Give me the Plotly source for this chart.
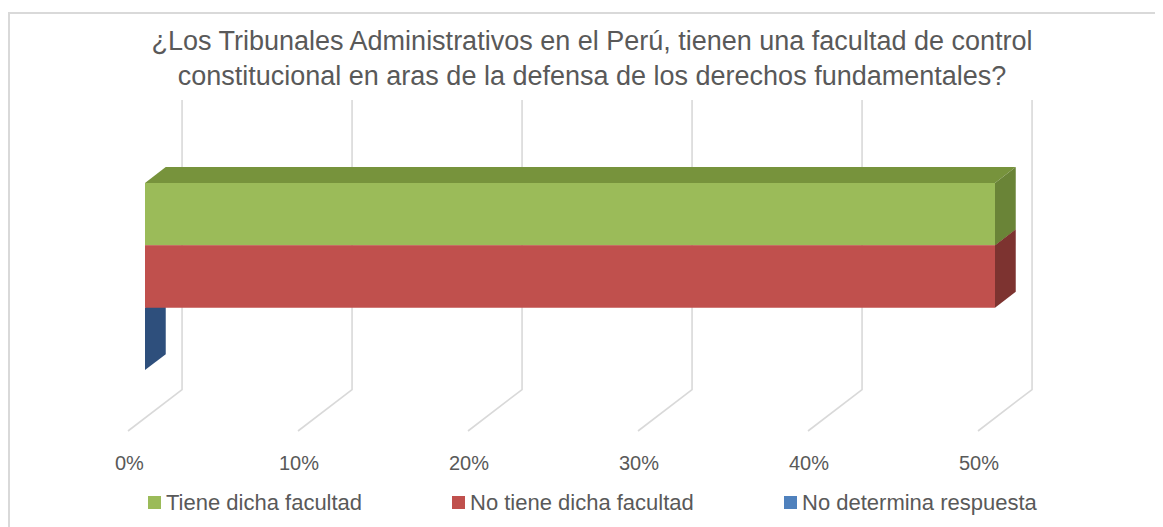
import plotly.graph_objects as go

# ---- data ----
categories = ["Tiene dicha facultad", "No tiene dicha facultad", "No determina respuesta"]
values = [50, 50, 0]
front_colors = ["#9BBB59", "#C0504D", "#4F81BD"]
side_colors = ["#6A8437", "#7D3330", "#2E4F7C"]
top_colors = ["#77933C", "#943C39", "#3A6090"]
tick_values = [0, 10, 20, 30, 40, 50]
tick_labels = ["0%", "10%", "20%", "30%", "40%", "50%"]
title_lines = ["¿Los Tribunales Administrativos en el Perú, tienen una facultad de control",
               "constitucional en aras de la defensa de los derechos fundamentales?"]

OFF = 8                      # page body margin
W, H = 1163 - OFF, 527 - OFF
FONT = "Liberation Sans"
TXT = "#595959"
GRID = "#D9D9D9"

def px(p):
    return (p - OFF) / W

def py(p):
    return 1 - (p - OFF) / H

# 3D look parameters (axis units)
DX, DY = 1.22, 0.256          # bar depth offset
BACK_DX, FLOOR_DX = 2.18, -1.0
WALL_TOP, WALL_BOT, FLOOR_Y = 3.83, -0.811, -1.476
LABEL_DX, LABEL_Y = -0.94, -1.99

X0_PX, X_SCALE = 145 - OFF, 17.0
Y0_PX, Y_SCALE = 338.9 - OFF, 62.4

n = len(categories)
slots = [n - 1 - i for i in range(n)]   # first category on top

fig = go.Figure()
shapes = []

# back-wall / floor gridlines
for v in tick_values:
    shapes.append(dict(type="path", xref="x", yref="y", layer="below",
                       path=f"M{v+BACK_DX},{WALL_TOP} L{v+BACK_DX},{WALL_BOT} L{v+FLOOR_DX},{FLOOR_Y}",
                       line=dict(color=GRID, width=1.6)))

# depth faces (drawn bottom bar first)
for i in reversed(range(n)):
    v, s = values[i], slots[i]
    y0, y1 = s - 0.5, s + 0.5
    shapes.append(dict(type="path", xref="x", yref="y", layer="below",
                       path=f"M0,{y1} L{v},{y1} L{v+DX},{y1+DY} L{DX},{y1+DY} Z",
                       fillcolor=top_colors[i], line=dict(width=0)))
    shapes.append(dict(type="path", xref="x", yref="y", layer="below",
                       path=f"M{v},{y0} L{v},{y1} L{v+DX},{y1+DY} L{v+DX},{y0+DY} Z",
                       fillcolor=side_colors[i], line=dict(width=0)))

# front faces
for i in range(n):
    fig.add_trace(go.Bar(x=[values[i]], y=[slots[i]], orientation="h", width=1,
                         name=categories[i], marker=dict(color=front_colors[i], line=dict(width=0)),
                         showlegend=False, hoverinfo="name+x"))

# chart border
shapes.append(dict(type="line", xref="paper", yref="paper", x0=0, x1=1, y0=py(13), y1=py(13),
                   line=dict(color=GRID, width=2)))
shapes.append(dict(type="line", xref="paper", yref="paper", x0=1/W, x1=1/W, y0=py(12), y1=0,
                   line=dict(color=GRID, width=2)))

annotations = []
for v, lab in zip(tick_values, tick_labels):
    annotations.append(dict(x=v + LABEL_DX, y=LABEL_Y, xref="x", yref="y", text=lab, showarrow=False,
                            font=dict(family=FONT, size=20, color=TXT), xanchor="center", yanchor="middle"))

# legend
legend_x = [148, 452, 784]
for i in range(n):
    x0 = legend_x[i]
    shapes.append(dict(type="rect", xref="paper", yref="paper",
                       x0=px(x0), x1=px(x0 + 13), y0=py(509), y1=py(496),
                       fillcolor=front_colors[i], line=dict(width=0)))
    annotations.append(dict(x=px(x0 + 16), y=py(502.5), xref="paper", yref="paper", text=categories[i],
                            showarrow=False, xanchor="left", yanchor="middle",
                            font=dict(family=FONT, size=22, color=TXT)))

fig.update_layout(
    width=W, height=H,
    margin=dict(l=0, r=0, t=0, b=0),
    paper_bgcolor="white", plot_bgcolor="white",
    barmode="overlay",
    title=dict(text="<br>".join(title_lines),
               x=px(592), xanchor="center", y=py(50), yanchor="top",
               font=dict(family=FONT, size=27, color=TXT)),
    xaxis=dict(range=[-X0_PX / X_SCALE, (W - X0_PX) / X_SCALE], visible=False, fixedrange=True),
    yaxis=dict(range=[-(H - Y0_PX) / Y_SCALE, Y0_PX / Y_SCALE], visible=False, fixedrange=True),
    shapes=shapes, annotations=annotations,
)

fig.write_html("out.html")
